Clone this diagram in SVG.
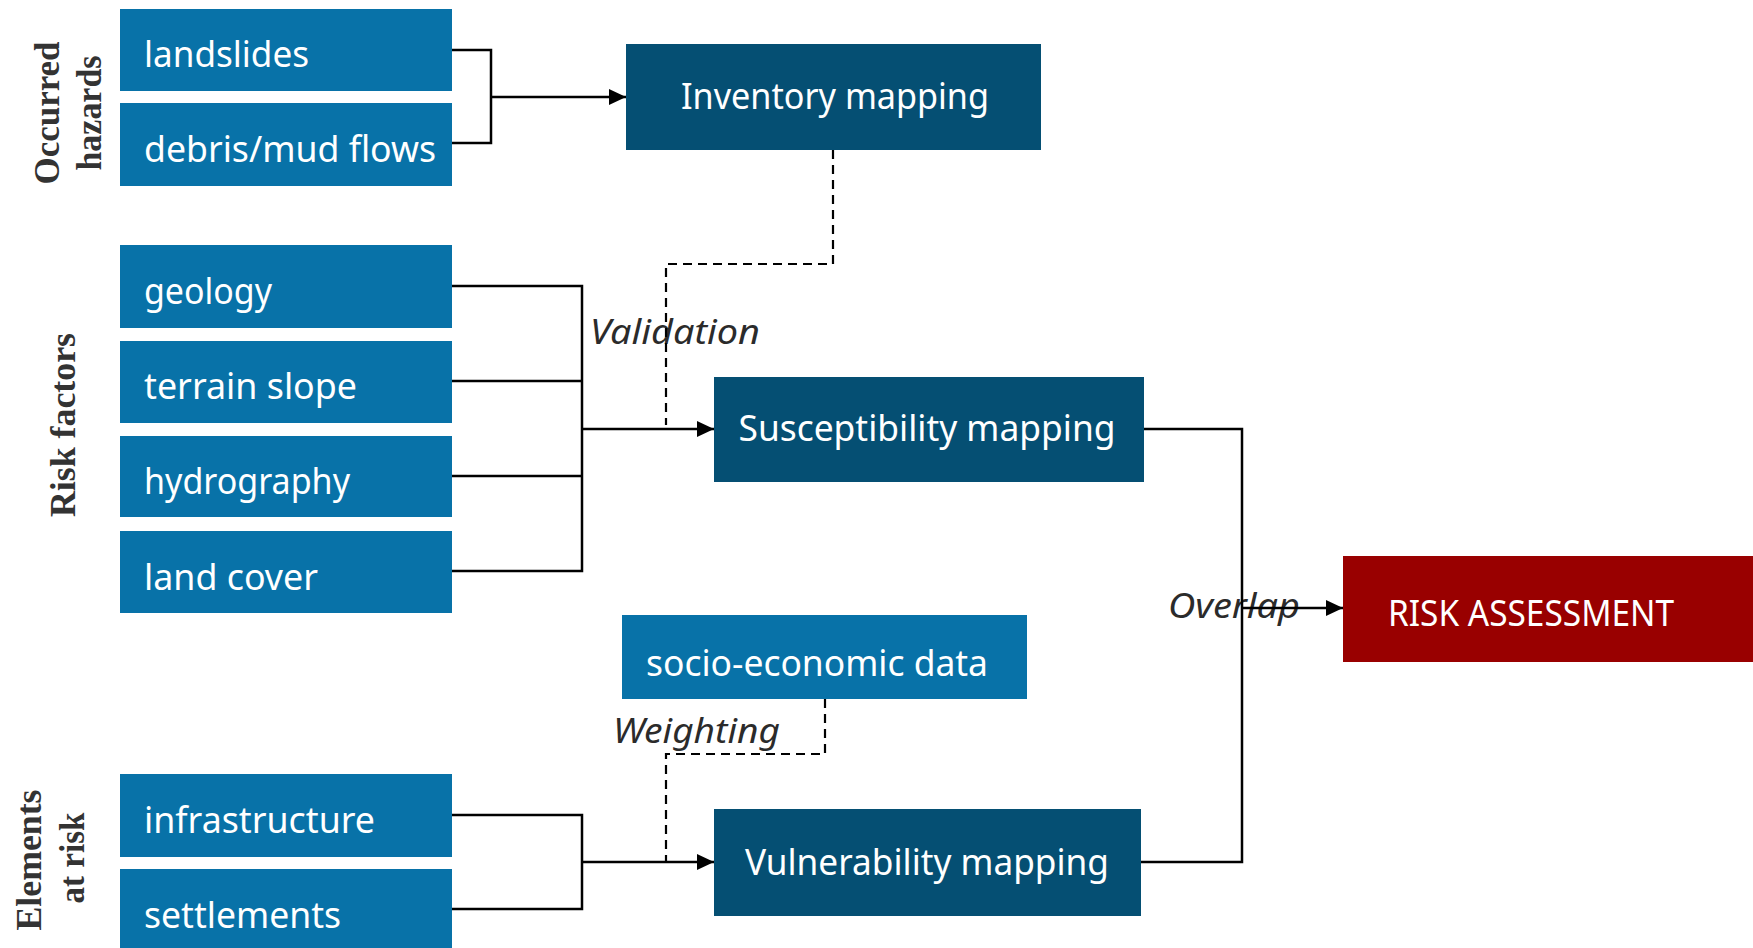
<svg xmlns="http://www.w3.org/2000/svg" width="1753" height="948" viewBox="0 0 1753 948">
<style>
.lb{fill:#0872A8}
.db{fill:#054F73}
.rb{fill:#990000}
.nt{font-family:"Noto Sans","DejaVu Sans",sans-serif;font-size:37px;fill:#ffffff}
.el{font-family:"Noto Sans","DejaVu Sans",sans-serif;font-size:35px;font-style:italic;fill:#2b2b2b}
.side{font-family:"Liberation Serif","Times New Roman",serif;font-size:35px;font-weight:bold;fill:#333333}
.ln{fill:none;stroke:#000;stroke-width:2.5}
.da{fill:none;stroke:#000;stroke-width:2.2;stroke-dasharray:9 6}
</style>
<defs>
<marker id="ar" markerUnits="userSpaceOnUse" markerWidth="18" markerHeight="18" refX="17" refY="9" orient="auto">
<path d="M0,1 L17,9 L0,17 Z" fill="#000"/>
</marker>
</defs>
<g id="side-labels">
<text class="side" transform="translate(59,113) rotate(-90)" text-anchor="middle" textLength="143" lengthAdjust="spacingAndGlyphs">Occurred</text>
<text class="side" transform="translate(101,113) rotate(-90)" text-anchor="middle" textLength="115" lengthAdjust="spacingAndGlyphs">hazards</text>
<text class="side" transform="translate(75,425) rotate(-90)" text-anchor="middle" textLength="184" lengthAdjust="spacingAndGlyphs">Risk factors</text>
<text class="side" transform="translate(41,860) rotate(-90)" text-anchor="middle" textLength="141" lengthAdjust="spacingAndGlyphs">Elements</text>
<text class="side" transform="translate(84,858) rotate(-90)" text-anchor="middle" textLength="91" lengthAdjust="spacingAndGlyphs">at risk</text>
</g>
<g id="n-landslides"><rect class="lb" x="120" y="9" width="332" height="82"/><text class="nt" x="144" y="66.5" textLength="165" lengthAdjust="spacingAndGlyphs">landslides</text></g>
<g id="n-debris"><rect class="lb" x="120" y="103" width="332" height="83"/><text class="nt" x="144" y="161.5" textLength="292" lengthAdjust="spacingAndGlyphs">debris/mud flows</text></g>
<g id="n-inventory"><rect class="db" x="626" y="44" width="415" height="106"/><text class="nt" x="835" y="109" text-anchor="middle" textLength="308" lengthAdjust="spacingAndGlyphs">Inventory mapping</text></g>
<g id="n-geology"><rect class="lb" x="120" y="245" width="332" height="83"/><text class="nt" x="144" y="303.5" textLength="128" lengthAdjust="spacingAndGlyphs">geology</text></g>
<g id="n-terrain"><rect class="lb" x="120" y="341" width="332" height="82"/><text class="nt" x="144" y="398.5" textLength="213" lengthAdjust="spacingAndGlyphs">terrain slope</text></g>
<g id="n-hydrography"><rect class="lb" x="120" y="436" width="332" height="81"/><text class="nt" x="144" y="493.5" textLength="206" lengthAdjust="spacingAndGlyphs">hydrography</text></g>
<g id="n-landcover"><rect class="lb" x="120" y="531" width="332" height="82"/><text class="nt" x="144" y="589.5" textLength="174" lengthAdjust="spacingAndGlyphs">land cover</text></g>
<g id="n-susceptibility"><rect class="db" x="714" y="377" width="430" height="105"/><text class="nt" x="927" y="441" text-anchor="middle" textLength="377" lengthAdjust="spacingAndGlyphs">Susceptibility mapping</text></g>
<g id="n-socio"><rect class="lb" x="622" y="615" width="405" height="84"/><text class="nt" x="646" y="675.5" textLength="342" lengthAdjust="spacingAndGlyphs">socio-economic data</text></g>
<g id="n-infrastructure"><rect class="lb" x="120" y="774" width="332" height="83"/><text class="nt" x="144" y="832.5" textLength="231" lengthAdjust="spacingAndGlyphs">infrastructure</text></g>
<g id="n-settlements"><rect class="lb" x="120" y="869" width="332" height="79"/><text class="nt" x="144" y="927.5" textLength="197" lengthAdjust="spacingAndGlyphs">settlements</text></g>
<g id="n-vulnerability"><rect class="db" x="714" y="809" width="427" height="107"/><text class="nt" x="927" y="875" text-anchor="middle" textLength="364" lengthAdjust="spacingAndGlyphs">Vulnerability mapping</text></g>
<g id="n-risk"><rect class="rb" x="1343" y="556" width="410" height="106"/><text class="nt" x="1531" y="626" text-anchor="middle" textLength="286" lengthAdjust="spacingAndGlyphs">RISK ASSESSMENT</text></g>
<g id="edge-labels">
<text class="el" x="590" y="344" textLength="170" lengthAdjust="spacingAndGlyphs">Validation</text>
<text class="el" x="613" y="743" textLength="167" lengthAdjust="spacingAndGlyphs">Weighting</text>
<text class="el" x="1168" y="618" textLength="132" lengthAdjust="spacingAndGlyphs">Overlap</text>
</g>
<g id="connectors">
<path class="ln" d="M452,50 H491 V143 H452"/>
<path class="ln" d="M491,97 H626" marker-end="url(#ar)"/>
<path class="ln" d="M452,286 H582 V571 H452 M452,381 H582 M452,476 H582"/>
<path class="ln" d="M582,429 H714" marker-end="url(#ar)"/>
<path class="ln" d="M452,815 H582 V909 H452"/>
<path class="ln" d="M582,862 H714" marker-end="url(#ar)"/>
<path class="ln" d="M1144,429 H1242 V862 H1141"/>
<path class="ln" d="M1242,608 H1343" marker-end="url(#ar)"/>
<path class="da" d="M833,150 V264 H666 V425"/>
<path class="da" d="M825,699 V754 H666 V862"/>
</g>
</svg>
